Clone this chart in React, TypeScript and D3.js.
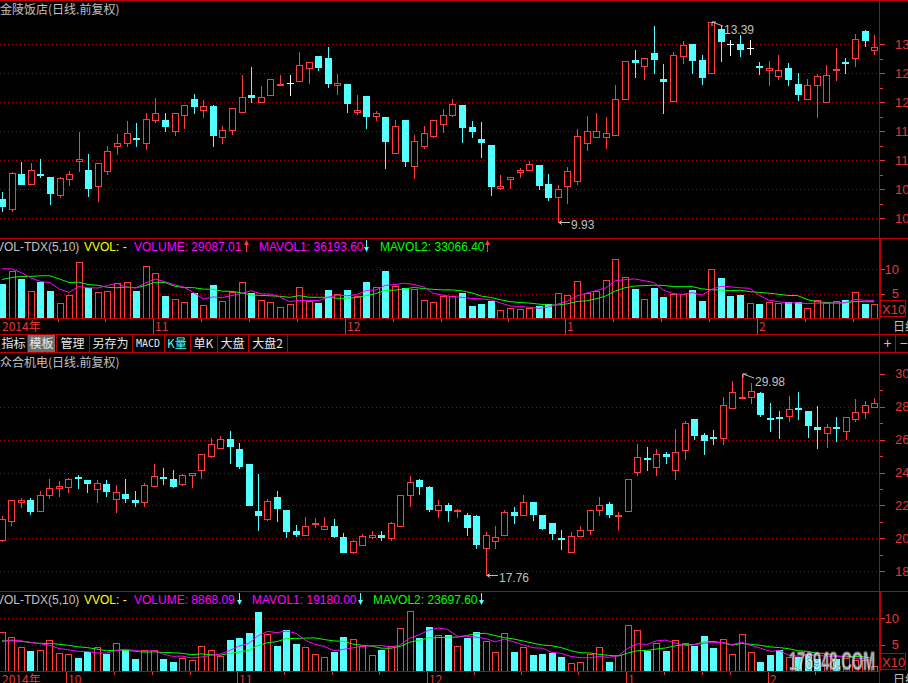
import React from "react";
import * as d3 from "d3";

// 金陵饭店 日线(前复权)
const topOpen = [
  10.34, 10.16, 10.76, 10.59, 10.77, 10.71, 10.41, 10.68, 10.98, 10.83,
  10.56, 10.82, 11.25, 11.29, 11.39, 11.30, 11.70, 11.70, 11.50, 11.78,
  12.06, 11.86, 11.94, 11.40, 11.52, 11.83, 12.13, 12.00, 12.12, 12.30,
  12.33, 12.36, 12.60, 12.80, 12.76, 12.29, 12.32, 11.84, 12.11, 11.76,
  11.75, 11.13, 11.70, 10.91, 11.25, 11.42, 11.62, 11.78, 11.95, 11.58,
  11.36, 11.26, 10.53, 10.68, 10.79, 10.83, 10.92, 10.59, 10.36, 10.55,
  10.65, 11.30, 11.41, 11.41, 11.43, 12.05, 12.73, 12.63, 12.85, 12.41,
  12.02, 12.80, 13.01, 12.73, 12.50, 13.26, 13.01, 13.01, 12.93, 12.63,
  12.55, 12.46, 12.60, 12.32, 12.05, 12.29, 12.01, 12.56, 12.70, 12.76,
  13.23, 12.91,
];
const topHigh = [
  10.45, 10.79, 10.97, 10.95, 11.03, 10.71, 10.72, 10.81, 11.49, 11.11,
  10.95, 11.25, 11.45, 11.68, 11.64, 11.82, 12.07, 11.82, 11.81, 11.95,
  12.14, 12.04, 11.95, 11.60, 11.91, 12.47, 12.61, 12.28, 12.40, 12.47,
  12.47, 12.87, 12.69, 12.80, 12.95, 12.49, 12.32, 12.12, 12.11, 11.85,
  11.75, 11.70, 11.70, 11.44, 11.59, 11.70, 11.89, 12.06, 11.95, 11.68,
  11.66, 11.26, 10.75, 10.72, 10.86, 10.99, 10.92, 10.76, 10.58, 10.89,
  11.54, 11.76, 11.82, 11.75, 12.30, 12.71, 12.91, 12.76, 13.32, 12.66,
  12.87, 13.06, 13.01, 12.81, 13.39, 13.32, 13.07, 13.16, 13.07, 12.70,
  12.71, 12.82, 12.67, 12.50, 12.41, 12.49, 12.64, 12.93, 12.77, 13.17,
  13.25, 13.16,
];
const topLow = [
  10.12, 10.12, 10.60, 10.59, 10.72, 10.25, 10.37, 10.58, 10.82, 10.39,
  10.30, 10.77, 11.11, 11.25, 11.25, 11.20, 11.66, 11.51, 11.43, 11.55,
  11.82, 11.75, 11.25, 11.30, 11.45, 11.83, 12.01, 12.00, 12.12, 12.30,
  12.12, 12.36, 12.34, 12.55, 12.27, 12.15, 11.84, 11.79, 11.56, 11.70,
  10.86, 11.13, 10.91, 10.70, 11.22, 11.41, 11.48, 11.76, 11.32, 11.41,
  11.06, 10.41, 10.51, 10.53, 10.72, 10.83, 10.50, 10.32, 9.93, 10.27,
  10.60, 11.17, 11.41, 11.22, 11.43, 12.05, 12.43, 12.40, 12.51, 11.82,
  12.02, 12.68, 12.51, 12.32, 12.50, 12.72, 12.82, 12.80, 12.84, 12.49,
  12.30, 12.40, 12.30, 12.04, 12.05, 11.74, 12.01, 12.39, 12.51, 12.62,
  12.97, 12.84,
];
const topClose = [
  10.22, 10.78, 10.60, 10.84, 10.74, 10.43, 10.69, 10.76, 11.03, 10.53,
  10.95, 11.16, 11.29, 11.47, 11.36, 11.71, 11.81, 11.60, 11.81, 11.95,
  11.94, 11.93, 11.44, 11.53, 11.90, 12.09, 12.10, 12.09, 12.40, 12.32,
  12.33, 12.64, 12.69, 12.61, 12.34, 12.33, 11.99, 11.87, 11.77, 11.81,
  11.34, 11.59, 10.99, 11.33, 11.47, 11.70, 11.78, 11.97, 11.58, 11.51,
  11.32, 10.55, 10.56, 10.72, 10.83, 10.93, 10.58, 10.37, 10.50, 10.81,
  11.42, 11.50, 11.50, 11.47, 12.05, 12.71, 12.70, 12.76, 12.74, 12.36,
  12.81, 12.98, 12.73, 12.43, 13.38, 13.06, 13.01, 12.92, 12.93, 12.61,
  12.60, 12.55, 12.41, 12.15, 12.29, 12.45, 12.47, 12.58, 12.68, 13.10,
  13.07, 12.95,
];
// volume, in the axis units (万)
const topVolume = [
  6.9, 9.7, 8.1, 5.6, 7.3, 5.6, 3.0, 4.8, 11.6, 6.1,
  5.3, 5.6, 7.1, 7.3, 5.6, 10.6, 9.3, 4.5, 4.0, 3.2,
  5.1, 2.6, 6.7, 3.4, 5.3, 7.4, 5.1, 3.6, 3.2, 2.2,
  2.8, 6.3, 3.4, 3.1, 5.7, 4.9, 5.7, 4.6, 7.3, 6.3,
  9.6, 6.5, 6.1, 5.9, 3.6, 3.2, 4.6, 4.6, 5.2, 2.4,
  2.9, 3.5, 1.6, 2.0, 1.8, 2.1, 2.4, 2.9, 5.2, 4.8,
  7.5, 5.1, 5.6, 7.9, 12.2, 8.5, 5.9, 3.8, 6.1, 4.3,
  5.0, 5.0, 5.7, 3.5, 10.1, 8.2, 4.5, 4.7, 3.0, 2.9,
  3.2, 3.0, 3.2, 3.3, 2.0, 3.7, 3.0, 3.4, 3.6, 5.3,
  2.9, 2.91,
];
// days before the visible window, only used by MAVOL
const topVolumeBefore = [5.5, 6.0, 5.5, 6.0, 5.5, 9.7, 12.0, 11.0, 10.9];

// 众合机电 日线(前复权)
const botOpen = [
  19.88, 21.03, 22.18, 22.32, 21.68, 22.61, 23.05, 23.15, 23.70, 23.56,
  23.03, 23.31, 22.38, 22.71, 22.34, 22.20, 23.17, 23.70, 23.62, 23.33,
  23.88, 24.14, 25.03, 25.47, 26.04, 25.43, 24.53, 21.68, 21.19, 22.52,
  21.74, 20.46, 20.18, 20.85, 20.57, 20.75, 20.10, 19.15, 19.58, 20.06,
  20.20, 20.00, 20.73, 22.61, 23.56, 23.13, 21.72, 22.04, 21.68, 21.41,
  21.37, 19.39, 19.82, 20.18, 21.62, 21.43, 22.18, 21.41, 20.95, 20.04,
  19.15, 20.12, 20.48, 21.74, 22.10, 21.35, 21.64, 24.02, 24.89, 24.32,
  25.13, 24.14, 25.35, 27.23, 26.26, 26.18, 26.08, 27.92, 28.53, 28.61,
  28.83, 27.31, 27.37, 27.41, 27.92, 27.74, 26.75, 26.38, 26.77, 26.50,
  27.23, 27.66, 28.00,
];
const botHigh = [
  21.33, 22.32, 22.46, 22.46, 22.89, 23.60, 23.49, 23.68, 23.86, 23.56,
  23.56, 23.56, 23.25, 23.62, 22.89, 23.39, 24.52, 24.30, 24.16, 23.94,
  24.00, 25.11, 26.08, 26.20, 26.52, 25.78, 24.53, 23.92, 22.38, 22.89,
  21.74, 20.83, 21.31, 21.25, 21.31, 21.19, 20.34, 19.92, 20.28, 20.44,
  20.44, 21.01, 22.63, 23.80, 23.60, 23.19, 22.32, 22.14, 21.80, 21.54,
  21.43, 20.38, 20.77, 21.70, 21.92, 22.65, 22.18, 21.45, 20.95, 20.53,
  20.38, 20.77, 21.72, 22.50, 22.18, 21.60, 23.60, 25.72, 25.54, 25.41,
  25.25, 26.65, 27.13, 27.23, 26.40, 26.59, 28.57, 29.56, 29.98, 29.41,
  28.87, 28.22, 27.74, 28.65, 28.89, 27.74, 28.02, 26.95, 27.37, 27.37,
  28.46, 28.34, 28.53,
];
const botLow = [
  19.82, 20.79, 21.90, 21.51, 21.68, 22.44, 22.55, 22.79, 23.09, 22.79,
  22.24, 22.57, 21.58, 22.24, 21.94, 21.94, 23.17, 23.33, 23.15, 23.23,
  23.15, 23.64, 24.95, 25.47, 24.55, 24.26, 22.00, 20.48, 21.09, 21.07,
  20.06, 20.12, 20.18, 20.67, 20.57, 20.08, 19.15, 19.09, 19.58, 20.00,
  19.92, 19.90, 20.73, 21.94, 22.71, 21.64, 21.27, 21.03, 21.27, 20.22,
  19.39, 17.76, 19.39, 20.18, 20.91, 21.43, 21.13, 20.55, 19.98, 19.37,
  19.15, 20.12, 20.28, 21.45, 21.27, 20.48, 21.64, 23.88, 24.18, 23.88,
  24.55, 23.58, 24.81, 26.02, 25.15, 25.76, 25.76, 27.92, 28.51, 28.24,
  27.45, 26.55, 26.12, 27.11, 27.27, 26.18, 25.51, 25.53, 25.94, 26.04,
  27.11, 27.33, 27.96,
];
const botClose = [
  21.17, 22.32, 22.32, 21.64, 22.63, 23.05, 23.17, 23.60, 23.64, 23.39,
  23.35, 22.85, 22.81, 22.48, 22.18, 23.25, 23.80, 23.64, 23.19, 23.84,
  23.98, 25.11, 25.72, 26.02, 25.64, 24.40, 22.04, 21.45, 22.26, 21.82,
  20.42, 20.24, 20.77, 20.95, 20.75, 20.16, 19.19, 19.84, 20.14, 20.18,
  20.06, 20.93, 22.63, 23.41, 23.19, 21.80, 22.02, 21.70, 21.72, 20.67,
  19.64, 20.18, 20.08, 21.60, 21.45, 22.18, 21.49, 20.61, 20.30, 20.00,
  20.14, 20.51, 21.72, 22.04, 21.51, 21.45, 23.60, 24.93, 24.81, 25.11,
  25.03, 25.23, 26.99, 26.30, 26.00, 26.12, 28.08, 28.87, 28.61, 28.93,
  27.58, 27.23, 27.31, 27.84, 27.88, 26.87, 26.67, 26.75, 26.71, 27.37,
  27.66, 28.10, 28.20,
];
const botVolume = [
  7.4, 6.4, 4.5, 3.8, 3.9, 5.8, 3.4, 3.2, 2.4, 3.6,
  4.6, 3.2, 5.4, 3.9, 2.2, 3.9, 3.9, 2.2, 1.7, 2.5,
  2.0, 4.8, 3.9, 2.8, 5.9, 6.2, 7.2, 11.2, 7.1, 4.7,
  7.7, 5.1, 4.5, 3.3, 2.7, 3.6, 6.4, 6.0, 4.8, 3.1,
  3.9, 4.8, 8.1, 11.3, 6.2, 8.3, 6.9, 6.8, 4.8, 6.2,
  7.4, 5.6, 3.7, 7.3, 3.6, 4.5, 3.0, 3.2, 3.4, 2.6,
  1.6, 1.8, 3.2, 4.6, 1.8, 3.1, 8.7, 7.7, 3.8, 5.3,
  3.8, 5.8, 5.3, 4.8, 6.6, 4.4, 6.0, 3.2, 7.1, 3.6,
  1.8, 3.0, 3.9, 2.6, 2.7, 3.3, 2.3, 3.2, 2.2, 2.4,
  2.1, 2.0, 0.89,
];
const botVolumeBefore = [6.0, 5.5, 6.2, 5.4, 5.9, 5.0, 5.3, 5.2, 5.1];

// axis ticks and labels
const topPriceGrid = [13, 12.5, 12, 11.5, 11, 10.5, 10];
const topPriceTicks = d3.range(10, 13.01, 0.25);
const botPriceGrid = [28, 26, 24, 22, 20, 18];
const botPriceLabels = [30, 28, 26, 24, 22, 20, 18];
const botPriceTicks = d3.range(18, 30.01, 1);
const volGrid = [10, 5];

const topMonthIdx = [16, 36, 59, 79];
const topMonthText = ["11", "12", "1", "2"];
const topWeekIdx = [6, 11, 21, 26, 31, 41, 46, 53, 64, 69, 74, 84, 89];
const botMonthIdx = [7, 25, 45, 66, 81];
const botMonthText = ["10", "11", "12", "1", "2"];
const botWeekIdx = [12, 16, 20, 30, 35, 40, 50, 55, 61, 70, 74, 77, 86];

const topHeaderValues = ["29087.01", "36193.60", "33066.40"];
const topHeaderArrows = [true, false, true];
const botHeaderValues = ["8868.09", "19180.00", "23697.60"];
const botHeaderArrows = [false, false, false];

const toolButtons = ["指标", "模板", "管理", "另存为", "MACD", "K量", "单K", "大盘", "大盘2"];

const UP = "#ff3c3c";
const DOWN = "#54ffff";
const FRAME = "#c00000";
const GRID = "#a80000";
const LABEL = "#c0c0c0";
const AXIS = "#e83434";
const LATIN = '"Liberation Sans", Arial, sans-serif';
const CJK = '"Noto Sans CJK SC", "Liberation Sans", sans-serif';
const MONO = '"DejaVu Sans Mono", monospace';
const RIGHT = 879;

function makeX(n: number) {
  const step = (RIGHT - 2) / (n - 0.5);
  return d3.scaleBand<number>().domain(d3.range(n)).range([2 - step / 2, RIGHT]);
}

function center(x: d3.ScaleBand<number>, i: number) {
  return x(i)! + x.bandwidth() / 2;
}

function movingAvg(before: number[], vals: number[], n: number) {
  const all = before.concat(vals);
  return vals.map((_, i) => {
    const end = before.length + i + 1;
    return d3.mean(all.slice(Math.max(0, end - n), end))!;
  });
}

function Candles({ o, h, l, c, x, y }: any) {
  return (
    <g shapeRendering="crispEdges">
      {o.map((op: number, i: number) => {
        const cl = c[i];
        const cx = Math.round(center(x, i));
        const wx = cx + 0.5;
        const yh = Math.round(y(h[i]));
        const yl = Math.round(y(l[i]));
        const yt = Math.round(y(Math.max(op, cl)));
        const yb = Math.round(y(Math.min(op, cl)));
        if (cl > op) {
          return (
            <g key={i} stroke={UP}>
              {yt > yh && <line x1={wx} x2={wx} y1={yh} y2={yt} />}
              {yl > yb && <line x1={wx} x2={wx} y1={yb} y2={yl + 1} />}
              <rect x={cx - 3 + 0.5} y={yt + 0.5} width={6} height={Math.max(1, yb - yt)} fill="#000" />
            </g>
          );
        }
        if (cl < op) {
          return (
            <g key={i}>
              <line x1={wx} x2={wx} y1={yh} y2={yl + 1} stroke={DOWN} />
              <rect x={cx - 3} y={yt} width={7} height={Math.max(2, yb - yt + 1)} fill={DOWN} />
            </g>
          );
        }
        return (
          <g key={i} stroke="#ffffff">
            <line x1={wx} x2={wx} y1={yh} y2={yl + 1} />
            <line x1={cx - 3} x2={cx + 4} y1={yt + 0.5} y2={yt + 0.5} />
          </g>
        );
      })}
    </g>
  );
}

function Extremes({ h, l, x, y }: any) {
  const hi = d3.maxIndex(h);
  const lo = d3.minIndex(l);
  const hx = Math.round(center(x, hi)) + 1;
  const hy = Math.round(y(h[hi]));
  const lx = Math.round(center(x, lo)) + 1;
  const ly = Math.round(y(l[lo])) + 0.5;
  return (
    <g fill="none" stroke={LABEL}>
      <path d={`M${hx} ${hy}L${hx + 11} ${hy + 4}M${hx} ${hy}L${hx + 4} ${hy}M${hx} ${hy}L${hx} ${hy + 4}`} />
      <text x={hx + 12} y={hy + 12} fill={LABEL} stroke="none" fontFamily={LATIN} fontSize={12}>
        {h[hi].toFixed(2)}
      </text>
      <path d={`M${lx} ${ly}L${lx + 11} ${ly}M${lx} ${ly}L${lx + 3} ${ly - 2}M${lx} ${ly}L${lx + 3} ${ly + 2}`} />
      <text x={lx + 12} y={ly + 6} fill={LABEL} stroke="none" fontFamily={LATIN} fontSize={12}>
        {l[lo].toFixed(2)}
      </text>
    </g>
  );
}

function PricePanel({ o, h, l, c, y, grid, ticks, labels, majorEvery, title, titleY }: any) {
  const x = makeX(o.length);
  return (
    <g>
      <text x={0} y={titleY} fill={LABEL} fontFamily={CJK} fontSize={12}>{title}</text>
      <g stroke={GRID} strokeDasharray="1 3" shapeRendering="crispEdges">
        {grid.map((v: number) => (
          <line key={v} x1={0} x2={RIGHT} y1={Math.round(y(v)) + 0.5} y2={Math.round(y(v)) + 0.5} />
        ))}
      </g>
      <Candles o={o} h={h} l={l} c={c} x={x} y={y} />
      <Extremes h={h} l={l} x={x} y={y} />
      <g stroke={AXIS} shapeRendering="crispEdges">
        {ticks.map((v: number, i: number) => (
          <line key={i} x1={RIGHT} x2={RIGHT + (i % majorEvery === 0 ? 6 : 4)}
            y1={Math.round(y(v)) + 0.5} y2={Math.round(y(v)) + 0.5} />
        ))}
      </g>
      {labels.map((v: number) => (
        <text key={v} x={895} y={y(v) + 4.5} fill={AXIS} fontFamily={LATIN} fontSize={13}>
          {v.toFixed(2)}
        </text>
      ))}
    </g>
  );
}

function Arrow({ x, top, up, color }: any) {
  const b = top + 12;
  return up ? (
    <g>
      <line x1={x + 0.5} x2={x + 0.5} y1={top + 3} y2={b} stroke={color} />
      <path d={`M${x - 2} ${top + 5}L${x + 0.5} ${top}L${x + 3} ${top + 5}Z`} fill={color} />
    </g>
  ) : (
    <g>
      <line x1={x + 0.5} x2={x + 0.5} y1={top} y2={b - 3} stroke={color} />
      <path d={`M${x - 2} ${b - 5}L${x + 0.5} ${b}L${x + 3} ${b - 5}Z`} fill={color} />
    </g>
  );
}

function VolumePanel({ o, c, vol, before, y, base, headerY, values, arrows, pos }: any) {
  const x = makeX(vol.length);
  const ma1 = movingAvg(before, vol, 5);
  const ma2 = movingAvg(before, vol, 10);
  const line = d3.line<number>().x((_, i) => center(x, i)).y((v) => y(v));
  const up = vol.map((_: number, i: number) =>
    c[i] > o[i] || (c[i] === o[i] && (i === 0 || c[i] >= c[i - 1])));
  const arrowColor = (u: boolean) => (u ? UP : DOWN);
  return (
    <g>
      <g fontFamily={LATIN} fontSize={12}>
        <text x={-4} y={headerY} fill={LABEL}>VOL-TDX(5,10)</text>
        <text x={84} y={headerY} fill="#ffff00">VVOL: -</text>
        <text x={134} y={headerY} fill="#ff00ff">VOLUME: {values[0]}</text>
        <text x={pos[1]} y={headerY} fill="#ff00ff">MAVOL1: {values[1]}</text>
        <text x={pos[3]} y={headerY} fill="#00ff00">MAVOL2: {values[2]}</text>
      </g>
      <Arrow x={pos[0]} top={headerY - 11} up={arrows[0]} color={arrowColor(arrows[0])} />
      <Arrow x={pos[2]} top={headerY - 11} up={arrows[1]} color={arrowColor(arrows[1])} />
      <Arrow x={pos[4]} top={headerY - 11} up={arrows[2]} color={arrowColor(arrows[2])} />
      <g stroke={GRID} strokeDasharray="1 3" shapeRendering="crispEdges">
        {volGrid.map((v) => (
          <line key={v} x1={0} x2={RIGHT} y1={Math.round(y(v)) + 0.5} y2={Math.round(y(v)) + 0.5} />
        ))}
      </g>
      <g shapeRendering="crispEdges">
        {vol.map((v: number, i: number) => {
          const cx = Math.round(center(x, i));
          const t = Math.round(y(v));
          return up[i] ? (
            <rect key={i} x={cx - 3 + 0.5} y={t + 0.5} width={6} height={base - t} fill="#000" stroke={UP} />
          ) : (
            <rect key={i} x={cx - 3} y={t} width={7} height={base - t + 1} fill={DOWN} />
          );
        })}
      </g>
      <path d={line(ma2)!} fill="none" stroke="#00ff00" />
      <path d={line(ma1)!} fill="none" stroke="#ff00ff" />
      <g stroke={AXIS} shapeRendering="crispEdges">
        {volGrid.map((v) => (
          <line key={v} x1={RIGHT} x2={RIGHT + 6} y1={Math.round(y(v)) + 0.5} y2={Math.round(y(v)) + 0.5} />
        ))}
      </g>
      {volGrid.map((v) => (
        <text key={v} x={899} y={y(v) + 4.5} fill={AXIS} fontFamily={LATIN} fontSize={13} textAnchor="end">
          {v}
        </text>
      ))}
      <rect x={880.5} y={base - 17.5} width={25} height={16} fill="none" stroke={FRAME} shapeRendering="crispEdges" />
      <text x={882} y={base - 4} fill={AXIS} fontFamily={LATIN} fontSize={13}>X10</text>
    </g>
  );
}

function DateRow({ n, top, bottom, months, monthText, weeks }: any) {
  const x = makeX(n);
  const tx = (i: number) => Math.round(center(x, i) - 2) + 0.5;
  return (
    <g>
      <g stroke={AXIS} shapeRendering="crispEdges">
        {weeks.map((i: number) => (
          <line key={"w" + i} x1={tx(i)} x2={tx(i)} y1={top} y2={top + 4} />
        ))}
        {months.map((i: number) => (
          <line key={"m" + i} x1={tx(i)} x2={tx(i)} y1={top} y2={bottom} />
        ))}
      </g>
      <g fill={AXIS} fontFamily={CJK} fontSize={12}>
        <text x={2} y={top + 13}>2014年</text>
        {months.map((i: number, k: number) => (
          <text key={i} x={tx(i) + 1.5} y={top + 13}>{monthText[k]}</text>
        ))}
      </g>
      <text x={893} y={top + 13} fill={LABEL} fontFamily={CJK} fontSize={12}>日线</text>
    </g>
  );
}

function Toolbar({ top }: any) {
  const edges = [0, 27, 56, 89, 132, 164, 190, 217, 248, 287];
  return (
    <g>
      <rect x={28} y={top + 1} width={27} height={17} fill="#6c6c6c" />
      <g stroke={FRAME} shapeRendering="crispEdges">
        {edges.slice(1).map((e) => (
          <line key={e} x1={e + 0.5} x2={e + 0.5} y1={top} y2={top + 18} />
        ))}
        <line x1={895.5} x2={895.5} y1={top} y2={top + 18} />
      </g>
      {toolButtons.map((b, i) => {
        const mid = (edges[i] + edges[i + 1]) / 2;
        if (b === "MACD") {
          return (
            <text key={b} x={mid} y={top + 13} textAnchor="middle" fill="#e8e8e8" fontFamily={MONO} fontSize={10}>
              {b}
            </text>
          );
        }
        return (
          <text key={b} x={mid} y={top + 14} textAnchor="middle" fill={b === "K量" ? DOWN : "#e8e8e8"} fontFamily={CJK} fontSize={12}>
            {b}
          </text>
        );
      })}
      <text x={887.5} y={top + 14} textAnchor="middle" fill={LABEL} fontFamily={LATIN} fontSize={14}>+</text>
      <text x={903.5} y={top + 14} textAnchor="middle" fill={LABEL} fontFamily={LATIN} fontSize={14}>−</text>
    </g>
  );
}

export default function App() {
  const yTop = d3.scaleLinear().domain([10, 13]).range([218.3, 44.3]);
  const yBot = d3.scaleLinear().domain([18, 28]).range([571.3, 406.7]);
  const yTopVol = d3.scaleLinear().domain([0, 10]).range([318, 269.3]);
  const yBotVol = d3.scaleLinear().domain([0, 10]).range([671, 618.3]);

  return (
    <svg width={908} height={683} style={{ position: "absolute", left: 0, top: 0, display: "block", background: "#000" }}>
      <rect width={908} height={683} fill="#000" />

      <PricePanel o={topOpen} h={topHigh} l={topLow} c={topClose} y={yTop}
        grid={topPriceGrid} ticks={topPriceTicks} labels={topPriceGrid} majorEvery={2}
        title="金陵饭店(日线.前复权)" titleY={14} />
      <VolumePanel o={topOpen} c={topClose} vol={topVolume} before={topVolumeBefore} y={yTopVol} base={318}
        headerY={251} values={topHeaderValues} arrows={topHeaderArrows} pos={[246, 259, 366, 380, 487]} />
      <DateRow n={topOpen.length} top={318} bottom={334} months={topMonthIdx} monthText={topMonthText} weeks={topWeekIdx} />
      <Toolbar top={334} />

      <PricePanel o={botOpen} h={botHigh} l={botLow} c={botClose} y={yBot}
        grid={botPriceGrid} ticks={botPriceTicks} labels={botPriceLabels} majorEvery={2}
        title="众合机电(日线.前复权)" titleY={367} />
      <VolumePanel o={botOpen} c={botClose} vol={botVolume} before={botVolumeBefore} y={yBotVol} base={671}
        headerY={604} values={botHeaderValues} arrows={botHeaderArrows} pos={[239, 252, 360, 373, 481]} />
      <DateRow n={botOpen.length} top={671} bottom={683} months={botMonthIdx} monthText={botMonthText} weeks={botWeekIdx} />

      <g stroke={FRAME} shapeRendering="crispEdges">
        <line x1={0} x2={908} y1={0.5} y2={0.5} />
        <line x1={0} x2={908} y1={238.5} y2={238.5} />
        <line x1={0} x2={RIGHT} y1={318.5} y2={318.5} />
        <line x1={0} x2={908} y1={334.5} y2={334.5} />
        <line x1={0} x2={908} y1={352.5} y2={352.5} />
        <line x1={0} x2={908} y1={591.5} y2={591.5} />
        <line x1={0} x2={RIGHT} y1={671.5} y2={671.5} />
        <line x1={RIGHT + 0.5} x2={RIGHT + 0.5} y1={0} y2={683} />
        <line x1={RIGHT + 1.5} x2={RIGHT + 1.5} y1={238} y2={318} />
        <line x1={RIGHT + 1.5} x2={RIGHT + 1.5} y1={591} y2={671} />
      </g>

      <text x={789} y={670} fill="#ffffff" fillOpacity={0.72} stroke="#7a7a7a" strokeWidth={0.8}
        fontFamily={LATIN} fontSize={26} fontWeight="bold" textLength={86} lengthAdjust="spacingAndGlyphs">
        176948.COM
      </text>
    </svg>
  );
}
